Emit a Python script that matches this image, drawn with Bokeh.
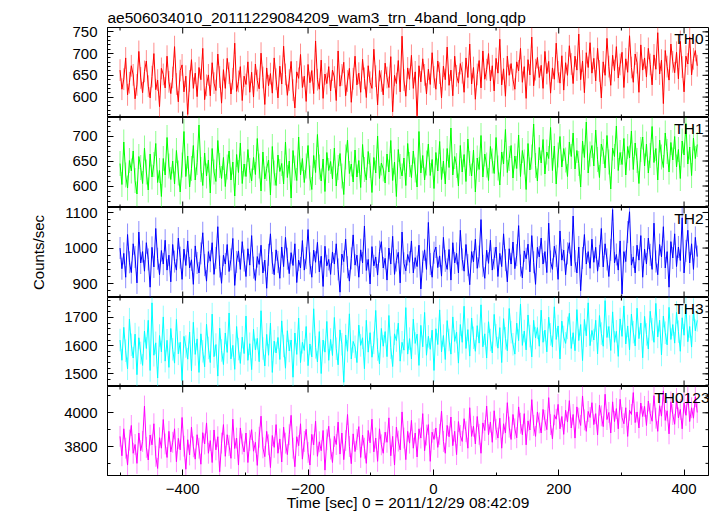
import numpy as np
from bokeh.plotting import figure
from bokeh.models import Range1d, LinearAxis, FixedTicker, Label, ColumnDataSource, Title
from bokeh.layouts import column
from bokeh.embed import file_html
from bokeh.resources import INLINE

# ---------------- data ----------------
title_text = "ae506034010_20111229084209_wam3_trn_4band_long.qdp"
x_label = "Time [sec] 0 = 2011/12/29 08:42:09"
y_label = "Counts/sec"

t_first = -500.0   # time of first bin (s)
t_step = 3.0       # bin width (s)

th0 = [662, 618, 641, 690, 605, 633, 672, 651, 596, 628, 705, 644, 610, 659,
       683, 625, 598, 647, 700, 617, 639, 578, 666, 652, 621, 694, 635, 608,
       645, 716, 630, 589, 661, 674, 612, 648, 560, 637, 686, 620, 655, 601,
       668, 640, 712, 594, 627, 651, 603, 679, 632, 615, 699, 646, 586, 663,
       620, 689, 655, 607, 642, 724, 613, 636, 670, 592, 648, 629, 681, 611,
       657, 600, 676, 638, 619, 701, 645, 583, 667, 626, 654, 609, 690, 641,
       598, 671, 630, 717, 652, 604, 639, 682, 616, 575, 658, 643, 698, 622,
       648, 590, 675, 633, 661, 608, 729, 640, 618, 685, 597, 653, 631, 670,
       614, 662, 646, 592, 706, 625, 651, 680, 603, 637, 666, 588, 642, 694,
       628, 655, 611, 687, 643, 599, 672, 634, 620, 710, 648, 582, 661, 637,
       605, 678, 645, 622, 693, 566, 650, 631, 684, 612, 740, 639, 602, 667,
       641, 696, 620, 658, 557, 672, 635, 688, 651, 607, 664, 629, 702, 646,
       618, 683, 655, 598, 671, 640, 715, 627, 662, 603, 694, 649, 632, 677,
       656, 611, 690, 645, 722, 630, 668, 595, 652, 684, 621, 706, 641, 663,
       700, 637, 672, 614, 689, 655, 733, 628, 665, 602, 694, 650, 677, 640,
       618, 681, 660, 712, 634, 670, 597, 686, 651, 738, 626, 663, 691, 645,
       673, 620, 705, 654, 682, 609, 667, 641, 724, 658, 632, 695, 616, 679,
       650, 718, 676, 631, 694, 662, 745, 640, 683, 610, 702, 668, 725, 655,
       689, 637, 712, 660, 598, 681, 650, 735, 670, 627, 696, 661, 716, 644,
       675, 703, 622, 688, 657, 741, 668, 634, 699, 679, 611, 720, 662, 690,
       646, 712, 675, 628, 697, 664, 748, 653, 685, 585, 707, 670, 639, 722,
       681, 656, 703, 642, 728, 669, 612, 694, 676, 738, 651, 688, 707, 672]

th1 = [645, 603, 688, 622, 596, 651, 630, 670, 611, 584, 659, 637, 605, 676,
       628, 592, 664, 618, 643, 685, 607, 631, 579, 655, 622, 697, 640, 613,
       650, 604, 671, 626, 588, 642, 709, 619, 660, 598, 635, 681, 612, 647,
       722, 633, 601, 666, 620, 652, 586, 675, 628, 609, 691, 641, 615, 657,
       599, 638, 670, 612, 648, 580, 663, 627, 686, 605, 644, 619, 673, 631,
       610, 657, 623, 695, 640, 590, 668, 614, 635, 652, 582, 679, 626, 601,
       662, 629, 645, 604, 688, 617, 650, 576, 671, 636, 611, 698, 622, 655,
       607, 640, 681, 616, 593, 661, 627, 703, 638, 610, 654, 589, 667, 631,
       649, 614, 676, 600, 637, 665, 620, 583, 658, 692, 625, 644, 608, 672,
       618, 651, 597, 683, 633, 612, 669, 641, 587, 657, 626, 700, 615, 646,
       634, 606, 664, 628, 691, 611, 648, 579, 673, 639, 620, 656, 601, 685,
       643, 617, 670, 632, 598, 709, 626, 661, 612, 646, 684, 621, 653, 595,
       667, 630, 689, 613, 650, 604, 675, 637, 716, 622, 659, 641, 600, 681,
       628, 663, 609, 694, 645, 620, 672, 588, 656, 633, 701, 618, 664, 642,
       611, 679, 650, 625, 697, 636, 602, 668, 644, 713, 627, 655, 681, 616,
       660, 635, 702, 619, 671, 648, 593, 685, 632, 658, 724, 641, 610, 677,
       646, 693, 624, 668, 655, 717, 631, 680, 604, 662, 699, 638, 675, 652,
       619, 688, 659, 706, 634, 671, 645, 598, 690, 657, 728, 626, 664, 681,
       640, 712, 653, 617, 684, 669, 636, 701, 648, 594, 676, 659, 720, 631,
       667, 643, 695, 622, 679, 656, 710, 633, 686, 651, 605, 673, 698, 640,
       684, 626, 661, 719, 647, 675, 612, 692, 658, 637, 706, 669, 628, 687,
       652, 699, 638, 673, 615, 690, 662, 725, 644, 678, 621, 696, 655, 683]

th2 = [1000, 942, 985, 918, 1038, 960, 931, 1012, 975, 902, 1045, 958, 990, 935,
       1015, 968, 890, 1002, 947, 1055, 970, 925, 993, 955, 1022, 938, 980, 905,
       1010, 962, 938, 1028, 973, 912, 997, 951, 1020, 944, 967, 898, 1006, 958,
       930, 985, 1043, 952, 907, 990, 963, 1015, 926, 972, 1060, 948, 901, 980,
       955, 1010, 934, 968, 1027, 895, 961, 992, 940, 1018, 965, 920, 998, 952,
       1035, 945, 909, 976, 954, 1008, 930, 966, 887, 981, 1040, 958, 925, 995,
       961, 915, 1003, 948, 1030, 970, 928, 987, 951, 1012, 903, 966, 944, 1021,
       938, 972, 1052, 957, 918, 994, 960, 1016, 933, 977, 892, 1005, 950, 968,
       926, 989, 955, 1012, 940, 876, 983, 962, 1025, 946, 907, 971, 1037, 952,
       980, 918, 995, 958, 1062, 937, 968, 899, 1004, 950, 975, 924, 990, 1018,
       944, 971, 910, 1000, 955, 1033, 926, 965, 988, 902, 1045, 957, 936, 982,
       960, 1020, 930, 973, 948, 1008, 885, 962, 995, 940, 1072, 955, 918, 987,
       1003, 945, 978, 921, 1030, 964, 940, 996, 910, 1015, 958, 985, 930, 1050,
       968, 935, 1010, 952, 897, 990, 961, 1025, 943, 976, 1080, 950, 915, 994,
       957, 1022, 938, 971, 1003, 920, 985, 948, 1040, 966, 905, 998, 955, 1017,
       942, 980, 1063, 951, 916, 992, 970, 1011, 933, 1035, 960, 898, 1002, 975,
       1028, 955, 990, 931, 1070, 962, 940, 1005, 978, 912, 1048, 966, 994, 925,
       985, 1015, 950, 1090, 963, 930, 1003, 880, 972, 1038, 955, 990, 943, 1025,
       960, 1002, 935, 978, 1055, 947, 1012, 968, 920, 995, 1108, 958, 982, 938,
       1020, 871, 990, 962, 1045, 1102, 952, 975, 930, 1008, 966, 1035, 918, 997,
       955, 1028, 981, 940, 1070, 962, 925, 1010, 975, 1060, 944, 990, 890, 1018,
       972, 1040, 948, 1003, 965, 1085, 930, 992, 1050, 958, 1012, 940, 1030, 976]

th3 = [1620, 1548, 1665, 1582, 1518, 1694, 1603, 1556, 1641, 1497, 1628, 1574, 1530, 1652,
       1590, 1690, 1512, 1752, 1566, 1610, 1485, 1636, 1578, 1702, 1545, 1619, 1523, 1661,
       1587, 1538, 1693, 1571, 1612, 1476, 1633, 1597, 1552, 1648, 1511, 1683, 1569, 1624,
       1505, 1642, 1580, 1525, 1676, 1592, 1540, 1712, 1561, 1604, 1492, 1662, 1583, 1533,
       1645, 1576, 1716, 1553, 1601, 1516, 1668, 1588, 1537, 1630, 1572, 1705, 1548, 1607,
       1515, 1658, 1585, 1626, 1543, 1724, 1590, 1528, 1640, 1566, 1680, 1505, 1616, 1574,
       1629, 1551, 1688, 1599, 1520, 1653, 1581, 1620, 1488, 1645, 1569, 1698, 1540, 1612,
       1583, 1668, 1529, 1606, 1560, 1731, 1594, 1542, 1650, 1501, 1620, 1577, 1686, 1548,
       1622, 1565, 1700, 1589, 1532, 1656, 1605, 1470, 1638, 1580, 1713, 1553, 1615, 1596,
       1540, 1673, 1601, 1628, 1518, 1690, 1577, 1646, 1559, 1610, 1725, 1586, 1535, 1661,
       1598, 1650, 1561, 1707, 1593, 1526, 1642, 1618, 1680, 1545, 1612, 1584, 1735, 1570,
       1625, 1553, 1694, 1608, 1641, 1530, 1672, 1596, 1718, 1566, 1633, 1587, 1655, 1512,
       1660, 1604, 1727, 1578, 1636, 1551, 1689, 1620, 1570, 1702, 1615, 1648, 1538, 1675,
       1612, 1740, 1590, 1657, 1563, 1698, 1628, 1580, 1671, 1609, 1745, 1596, 1642, 1556,
       1685, 1620, 1574, 1711, 1637, 1591, 1664, 1540, 1696, 1626, 1582, 1732, 1648, 1605,
       1570, 1680, 1618, 1748, 1601, 1652, 1585, 1709, 1634, 1560, 1690, 1627, 1664, 1598,
       1726, 1612, 1655, 1578, 1701, 1640, 1595, 1738, 1622, 1670, 1553, 1687, 1631, 1608,
       1663, 1715, 1590, 1646, 1582, 1728, 1618, 1675, 1547, 1693, 1635, 1752, 1600, 1654,
       1620, 1690, 1571, 1707, 1643, 1598, 1760, 1629, 1668, 1583, 1720, 1612, 1651, 1562,
       1695, 1633, 1741, 1606, 1670, 1585, 1712, 1648, 1599, 1733, 1625, 1680, 1557, 1704,
       1640, 1588, 1722, 1658, 1612, 1750, 1631, 1690, 1567, 1705, 1646, 1603, 1736, 1622,
       1675, 1609, 1718, 1650, 1580, 1699, 1637, 1744, 1614, 1668, 1595, 1728, 1653, 1690]

th0123 = [3860, 3745, 3905, 3790, 3690, 3838, 3925, 3760, 3812, 3700, 3880, 3775, 3830, 4040,
          3795, 3720, 3868, 3810, 3935, 3742, 3670, 3852, 3790, 3960, 3815, 3735, 3890, 3768,
          3825, 3905, 3710, 3848, 3780, 3972, 3802, 3665, 3840, 3750, 3915, 3798, 3725, 3870,
          3790, 3695, 3882, 3815, 3940, 3760, 3835, 3705, 3898, 3780, 3858, 3650, 3820, 3930,
          3742, 3870, 3805, 3730, 3962, 3788, 3850, 3690, 3910, 3815, 3768, 3880, 3705, 3835,
          3900, 3772, 3825, 3688, 3855, 3980, 3792, 3740, 3890, 3810, 3675, 3865, 3795, 3930,
          3760, 3845, 3708, 3915, 3820, 3752, 3870, 3985, 3790, 3680, 3858, 3805, 3935, 3725,
          3830, 3902, 3765, 3690, 3872, 3810, 3950, 3742, 3828, 3775, 3895, 3660, 3840, 3920,
          3785, 3705, 3860, 3812, 3945, 3755, 3880, 3722, 3835, 3990, 3800, 3698, 3875, 3770,
          3842, 3918, 3735, 3868, 3790, 3700, 3895, 3822, 3962, 3768, 3850, 3712, 3905, 3810,
          3760, 3885, 3825, 3970, 3745, 3860, 3690, 3915, 3832, 3780, 4005, 3850, 3722, 3890,
          3820, 3955, 3790, 3880, 3738, 3905, 3850, 3995, 3775, 3868, 3930, 3712, 3885, 3842,
          3910, 3795, 3872, 4010, 3830, 3760, 3925, 3858, 3975, 3805, 3890, 3752, 3948, 3865,
          3830, 3965, 3888, 3790, 4030, 3860, 3920, 3815, 3978, 3872, 3760, 3940, 3895, 4040,
          3870, 3945, 3825, 4012, 3902, 3850, 3968, 3790, 3935, 3880, 4060, 3915, 3842, 3990,
          3905, 3852, 4035, 3938, 3870, 3995, 3810, 3952, 3898, 4078, 3925, 3860, 4005, 3940,
          3880, 4020, 3955, 3900, 4090, 3930, 3845, 3988, 3962, 4050, 3905, 3978, 3872, 4015,
          3945, 4072, 3910, 3990, 3850, 4035, 3968, 3925, 4100, 3958, 3890, 4008, 3972, 4060,
          3930, 3995, 3868, 4045, 3982, 3918, 4110, 3960, 4002, 3880, 4065, 3948, 4025, 3905,
          4080, 3972, 3935, 4030, 3860, 4015, 3990, 4120, 3942, 4005, 3910, 4058, 3978, 4038,
          3925, 4070, 3995, 3950, 4102, 3968, 3890, 4042, 3980, 4130, 3955, 4012, 3875, 4065,
          3990, 3932, 4085, 3970, 4020, 3905, 4058, 3985, 4110, 3948, 4030, 3968, 4095, 4002]

series = [th0, th1, th2, th3, th0123]
names = ["TH0", "TH1", "TH2", "TH3", "TH0123"]
errors = [25, 25, 31, 40, 62]
y_lows = [553, 557, 861, 1455, 3628]
y_highs = [760, 737, 1114, 1771, 4156]
y_major = [[600, 650, 700, 750], [600, 650, 700], [900, 1000, 1100], [1500, 1600, 1700], [3800, 4000]]
y_minor_step = [10, 10, 20, 20, 100]

x_low, x_high = -520, 439
x_major = [-400, -200, 0, 200, 400]
x_tick_labels = ["\u2212400", "\u2212200", "0", "200", "400"]
x_minor = [-500, -300, -100, 100, 300]

# ---------------- style ----------------
colors = ["#ff0000", "#00ff00", "#0000ff", "#00ffff", "#ff00ff"]
FONT = "Liberation Sans"
frame_heights = [90, 90, 90, 89, 89]
MAJ, MIN = 6, 3


def style_axis(ax):
    ax.axis_line_color = "black"
    ax.axis_line_width = 1
    ax.major_tick_line_color = "black"
    ax.minor_tick_line_color = "black"
    ax.major_tick_in = MAJ
    ax.major_tick_out = 0
    ax.minor_tick_in = MIN
    ax.minor_tick_out = 0
    ax.major_label_text_font = FONT
    ax.major_label_text_color = "black"
    ax.major_label_text_font_size = "15px"


x_range = Range1d(x_low, x_high)
figs = []
n = len(series)
for i in range(n):
    first = i == 0
    last = i == n - 1
    fh = frame_heights[i]
    vals = np.array(series[i], dtype=float)
    t = t_first + t_step * np.arange(len(vals))
    src = ColumnDataSource(dict(t=t, y=vals, lo=vals - errors[i], hi=vals + errors[i]))
    lo, hi = y_lows[i], y_highs[i]

    p = figure(frame_width=601, frame_height=fh, x_range=x_range,
               y_range=Range1d(lo, hi),
               x_axis_type=None, y_axis_type=None,
               output_backend="svg", toolbar_location=None,
               min_border_left=107, min_border_right=9,
               min_border_top=27 if first else 0,
               min_border_bottom=40 if last else 0,
               background_fill_color="white", border_fill_color="white")
    p.outline_line_color = "black"
    p.outline_line_width = 1

    st = y_minor_step[i]
    minor = list(np.arange(np.ceil(lo / st) * st, hi + 0.1, st))
    yticker = FixedTicker(ticks=y_major[i], minor_ticks=minor)
    xticker = FixedTicker(ticks=x_major, minor_ticks=x_minor)

    yl = LinearAxis(ticker=yticker)
    style_axis(yl)
    yl.major_label_standoff = 10
    if i == 2:
        yl.axis_label = y_label
        yl.axis_label_text_font = FONT
        yl.axis_label_text_font_size = "15px"
        yl.axis_label_text_font_style = "normal"
        yl.axis_label_text_color = "black"
        yl.axis_label_standoff = 14
    p.add_layout(yl, "left")

    if last:
        xb = LinearAxis(ticker=xticker)
        style_axis(xb)
        xb.major_label_standoff = 8
        xb.major_label_overrides = {v: s for v, s in zip(x_major, x_tick_labels)}
        xb.axis_label = x_label
        xb.axis_label_text_font = FONT
        xb.axis_label_text_font_size = "15.5px"
        xb.axis_label_text_font_style = "normal"
        xb.axis_label_text_color = "black"
        xb.axis_label_standoff = -3
        p.add_layout(xb, "below")

    # data: error bars (light) and connecting line
    p.segment(x0="t", y0="lo", x1="t", y1="hi", source=src,
              line_color=colors[i], line_alpha=0.45, line_width=1)
    p.line(x="t", y="y", source=src, line_color=colors[i], line_width=1)

    # inward ticks on the right, top and (inner panels) bottom edges
    p.ray(x=[x_high] * len(y_major[i]), y=y_major[i], length=MAJ, length_units="screen",
          angle=np.pi, line_color="black", line_width=1)
    p.ray(x=[x_high] * len(minor), y=minor, length=MIN, length_units="screen",
          angle=np.pi, line_color="black", line_width=1)
    p.ray(x=x_major, y=[hi] * len(x_major), length=MAJ, length_units="screen",
          angle=-np.pi / 2, line_color="black", line_width=1)
    p.ray(x=x_minor, y=[hi] * len(x_minor), length=MIN, length_units="screen",
          angle=-np.pi / 2, line_color="black", line_width=1)
    if not last:
        p.ray(x=x_major, y=[lo] * len(x_major), length=MAJ, length_units="screen",
              angle=np.pi / 2, line_color="black", line_width=1)
        p.ray(x=x_minor, y=[lo] * len(x_minor), length=MIN, length_units="screen",
              angle=np.pi / 2, line_color="black", line_width=1)

    p.add_layout(Label(x=596 if not last else 602, y=fh - 2, x_units="screen", y_units="screen",
                       text=names[i], text_align="right", text_baseline="top",
                       text_font=FONT, text_font_size="15.5px", text_color="black"))
    if first:
        p.add_layout(Title(text=title_text, align="left", text_font=FONT,
                           text_font_size="15.5px", text_font_style="normal",
                           text_color="black", standoff=3, offset=0), "above")
    figs.append(p)

layout = column(*figs)
open("out.html", "w").write(file_html(layout, INLINE))
